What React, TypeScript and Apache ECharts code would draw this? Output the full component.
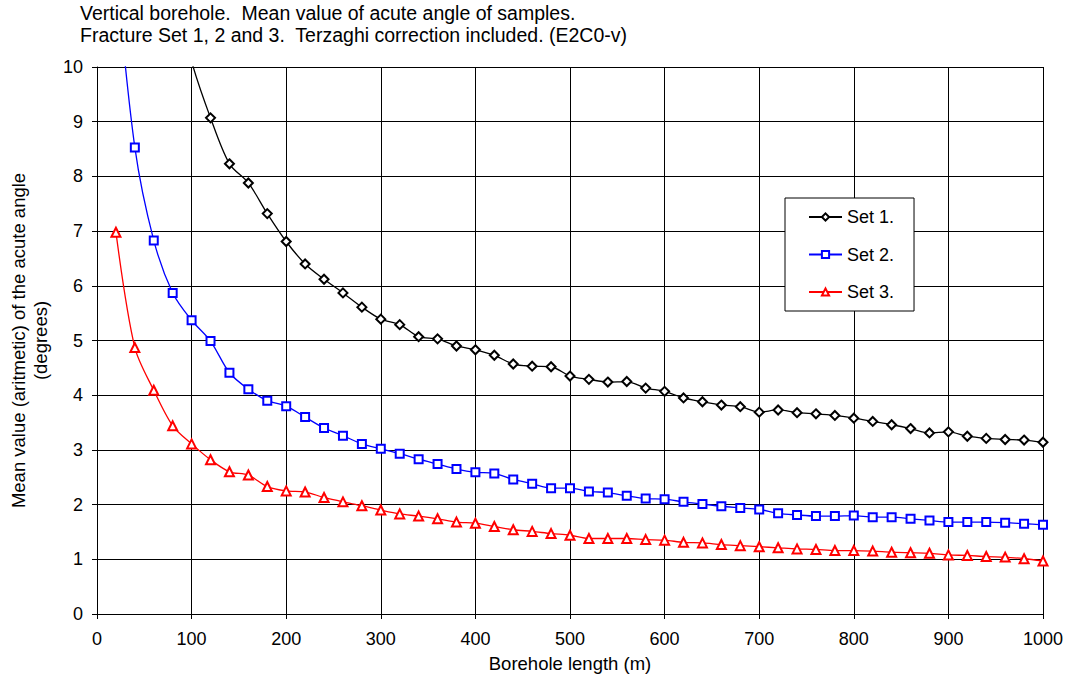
import React, { useEffect, useRef } from "react";
import * as echarts from "echarts";

// Borehole lengths (m) at which the mean acute angle was evaluated
const lengths = [
  20, 40, 60, 80, 100, 120, 140, 160, 180, 200,
  220, 240, 260, 280, 300, 320, 340, 360, 380, 400,
  420, 440, 460, 480, 500, 520, 540, 560, 580, 600,
  620, 640, 660, 680, 700, 720, 740, 760, 780, 800,
  820, 840, 860, 880, 900, 920, 940, 960, 980, 1000,
];

// Mean acute angle (degrees) per fracture set; null = not evaluated
const set1 = [
  null, null, null, 11.5, 10.1, 9.07, 8.23, 7.88, 7.32, 6.81,
  6.40, 6.12, 5.87, 5.61, 5.39, 5.29, 5.07, 5.03, 4.90, 4.83,
  4.73, 4.57, 4.53, 4.52, 4.35, 4.29, 4.24, 4.25, 4.13, 4.07,
  3.95, 3.88, 3.82, 3.79, 3.69, 3.73, 3.68, 3.66, 3.63, 3.58,
  3.52, 3.46, 3.39, 3.31, 3.33, 3.25, 3.21, 3.19, 3.18, 3.14,
];
const set2 = [
  11.8, 8.53, 6.83, 5.87, 5.37, 4.99, 4.41, 4.11, 3.90, 3.80,
  3.60, 3.40, 3.26, 3.11, 3.02, 2.93, 2.83, 2.74, 2.65, 2.59,
  2.57, 2.46, 2.38, 2.30, 2.30, 2.24, 2.22, 2.16, 2.11, 2.10,
  2.05, 2.01, 1.97, 1.94, 1.91, 1.84, 1.81, 1.79, 1.79, 1.80,
  1.77, 1.77, 1.74, 1.71, 1.68, 1.68, 1.68, 1.67, 1.65, 1.63,
];
const set3 = [
  6.98, 4.87, 4.09, 3.44, 3.11, 2.82, 2.60, 2.54, 2.33, 2.25,
  2.23, 2.13, 2.05, 1.98, 1.90, 1.83, 1.79, 1.74, 1.68, 1.66,
  1.60, 1.54, 1.51, 1.47, 1.44, 1.38, 1.38, 1.38, 1.36, 1.35,
  1.31, 1.30, 1.27, 1.25, 1.23, 1.21, 1.19, 1.18, 1.16, 1.16,
  1.15, 1.13, 1.12, 1.11, 1.08, 1.07, 1.05, 1.04, 1.01, 0.97,
];

const seriesNames = ["Set 1.", "Set 2.", "Set 3."];
const titleLines = [
  "Vertical borehole.  Mean value of acute angle of samples.",
  "Fracture Set 1, 2 and 3.  Terzaghi correction included. (E2C0-v)",
];
const xAxisTitle = "Borehole length (m)";
const yAxisTitle = "Mean value (aritmetic) of the acute angle\n(degrees)";

const FONT = "'Liberation Sans', Arial, sans-serif";
const FS_TICK = 18;
const FS_NAME = 18.5;
const FS_TITLE = 19.5;

function pairs(values: (number | null)[]) {
  const out: [number, number][] = [];
  values.forEach((v, i) => {
    if (v !== null) out.push([lengths[i], v]);
  });
  return out;
}

export default function App() {
  const ref = useRef<HTMLDivElement>(null);

  useEffect(() => {
    if (!ref.current) return;
    const chart = echarts.init(ref.current, undefined, { renderer: "svg" });

    const makeSeries = (
      name: string,
      values: (number | null)[],
      color: string,
      symbol: string,
      size: number
    ) => ({
      name,
      type: "line",
      data: pairs(values),
      smooth: 0.3,
      clip: true,
      symbol,
      symbolSize: size,
      showAllSymbol: true,
      color,
      lineStyle: { color, width: 1.3 },
      itemStyle: { color, borderWidth: 1.3 },
      emphasis: { disabled: true },
    });

    chart.setOption({
      animation: false,
      backgroundColor: "#fff",
      textStyle: { fontFamily: FONT, color: "#000" },
      title: {
        text: titleLines.join("\n"),
        left: 80,
        top: 2,
        padding: 0,
        textStyle: {
          fontFamily: FONT,
          fontSize: FS_TITLE,
          fontWeight: "normal",
          color: "#000",
          lineHeight: 22,
        },
      },
      grid: {
        left: 97,
        top: 67,
        width: 946,
        height: 547,
        containLabel: false,
        outerBoundsMode: "none",
      },
      xAxis: {
        type: "value",
        min: 0,
        max: 1000,
        interval: 100,
        name: xAxisTitle,
        nameLocation: "middle",
        nameGap: 24,
        nameTextStyle: { fontFamily: FONT, fontSize: FS_NAME, color: "#000", lineHeight: 22 },
        axisLine: { show: true, lineStyle: { color: "#000", width: 1 } },
        axisTick: { show: true, length: 5, lineStyle: { color: "#000" } },
        axisLabel: {
          fontFamily: FONT,
          fontSize: FS_TICK,
          color: "#000",
          margin: 16,
          formatter: (v: number) => String(v),
        },
        splitLine: { show: true, lineStyle: { color: "#000", width: 1 } },
      },
      yAxis: {
        type: "value",
        min: 0,
        max: 10,
        interval: 1,
        name: yAxisTitle,
        nameLocation: "middle",
        nameRotate: 90,
        nameGap: 46,
        nameTextStyle: {
          fontFamily: FONT,
          fontSize: FS_NAME,
          color: "#000",
          lineHeight: 22,
          align: "center",
        },
        axisLine: { show: true, lineStyle: { color: "#000", width: 1 } },
        axisTick: { show: true, length: 5, lineStyle: { color: "#000" } },
        axisLabel: {
          fontFamily: FONT,
          fontSize: FS_TICK,
          color: "#000",
          margin: 14,
          formatter: (v: number) => String(v),
        },
        splitLine: { show: true, lineStyle: { color: "#000", width: 1 } },
      },
      legend: {
        orient: "vertical",
        left: 785,
        top: 198,
        padding: [9, 20, 9, 23],
        itemWidth: 33,
        itemHeight: 9,
        itemGap: 17.5,
        backgroundColor: "#fff",
        borderColor: "#000",
        borderWidth: 1,
        borderRadius: 0,
        selectedMode: false,
        textStyle: { fontFamily: FONT, fontSize: FS_TICK, color: "#000", lineHeight: 20 },
        data: seriesNames,
      },
      series: [
        makeSeries(seriesNames[0], set1, "#000000", "emptyDiamond", 9),
        makeSeries(seriesNames[1], set2, "#0000ff", "emptyRect", 8),
        makeSeries(seriesNames[2], set3, "#ff0000", "emptyTriangle", 9),
      ],
    });

    return () => chart.dispose();
  }, []);

  return (
    <div
      ref={ref}
      style={{ position: "absolute", left: 0, top: 0, width: 1071, height: 675 }}
    />
  );
}
